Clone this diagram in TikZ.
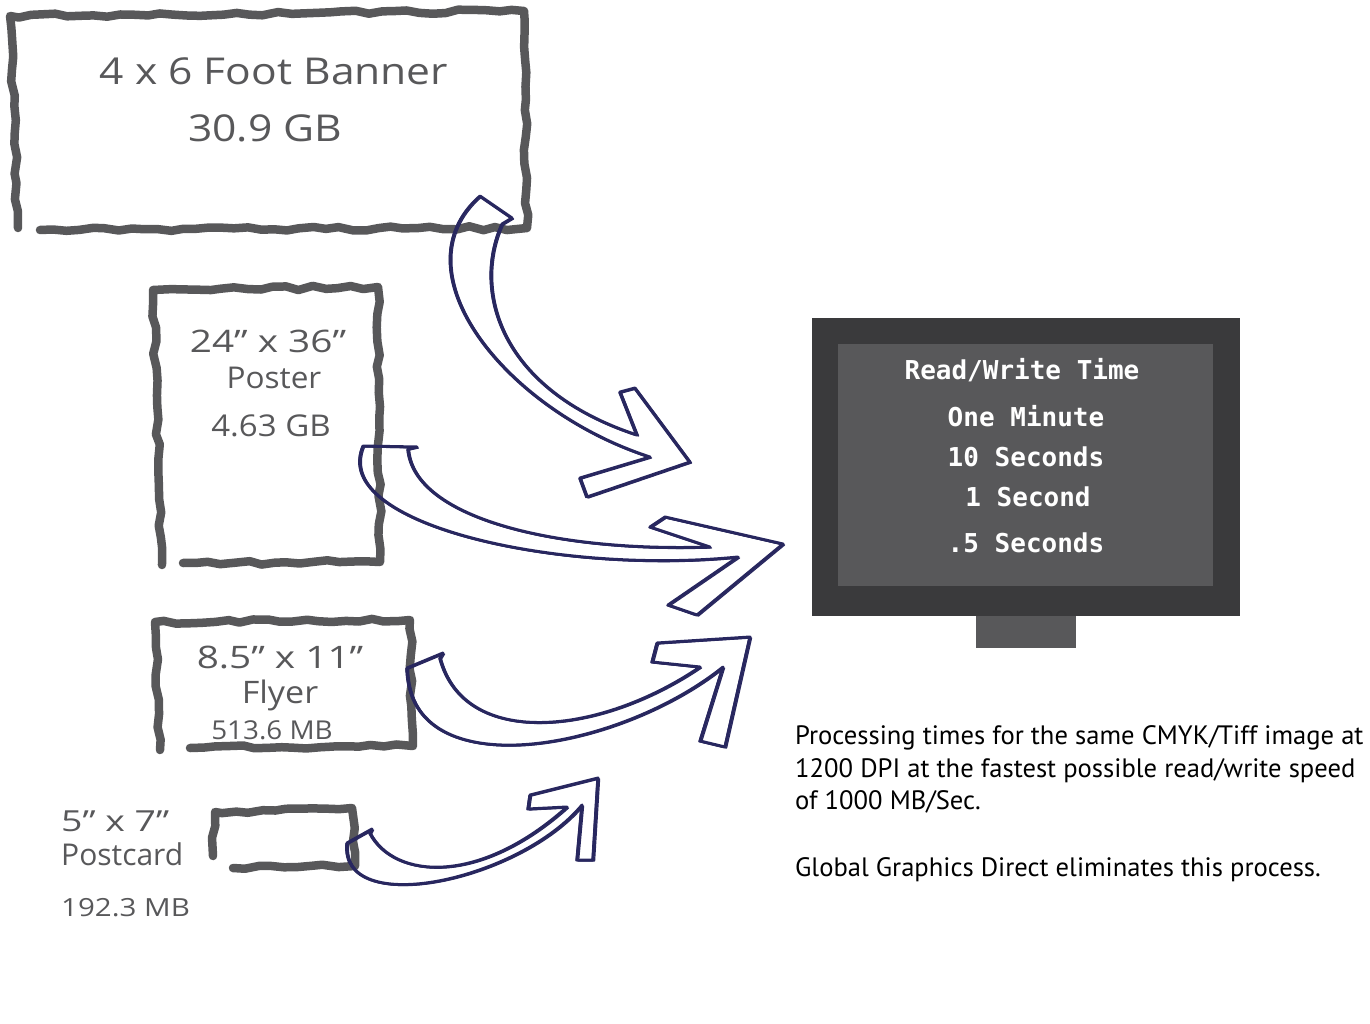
\documentclass[tikz,border=0pt]{standalone}
\usepackage{fontspec}
\setmainfont{Open Sans}
\newfontfamily\capfont{PT Sans}
\newfontfamily\monofont{DejaVu Sans Mono}
\usetikzlibrary{decorations.pathmorphing}
\definecolor{boxgray}{HTML}{58585A}
\definecolor{navyink}{HTML}{28275F}
\definecolor{monframe}{HTML}{3A3A3C}
\definecolor{monscreen}{HTML}{58585A}
\newcommand\hand[2]{\fontsize{#1}{#1}\selectfont\addfontfeature{FakeStretch=#2}}
\begin{document}
\begin{tikzpicture}[x=1pt,y=-1pt,
  roughbox/.style={draw=boxgray,line width=8.5pt,line cap=round,line join=round,
    decorate,decoration={random steps,segment length=13pt,amplitude=2pt}},
  ink/.style={draw=navyink,line join=round,line cap=round},
  boxtxt/.style={text=boxgray,anchor=base,inner sep=0pt},
  montxt/.style={text=white,anchor=base,inner sep=0pt,font=\monofont\bfseries\fontsize{26}{30}\selectfont},
  captxt/.style={text=black,anchor=base west,inner sep=0pt,font=\capfont\fontsize{26.6}{30}\selectfont}]
\useasboundingbox (0,0) rectangle (1370,1024);
\pgfmathsetseed{7}
% ---- rough boxes
\draw[roughbox] (40,230) -- (527,228) -- (524,11) -- (10,16) -- (18,228);
\draw[roughbox] (183,563) -- (380,562) -- (378,287) -- (153,290) -- (162,565);
\draw[roughbox] (190,748) -- (413,746) -- (410,620) -- (155,622) -- (160,750);
\draw[roughbox] (233,868) -- (355,866) -- (352,808) -- (215,812) -- (213,856);
% ---- box texts
\node[boxtxt,font=\hand{37}{1.15}] (b1) at (274,85) {4 x 6 Foot Banner};
\node[boxtxt,font=\hand{37}{1.15}] (b2) at (265,142) {30.9 GB};
\node[boxtxt,font=\hand{31}{1.25}] (p1) at (268,352) {24” x 36”};
\node[boxtxt,font=\hand{30}{1.05}] (p2) at (274,388) {Poster};
\node[boxtxt,font=\hand{30}{1.1}] (p3) at (271,436) {4.63 GB};
\node[boxtxt,font=\hand{31}{1.25}] (f1) at (280,668) {8.5” x 11”};
\node[boxtxt,font=\hand{31}{1.1}] (f2) at (280,703) {Flyer};
\node[boxtxt,font=\hand{26}{1.07}] (f3) at (272,739) {513.6 MB};
\node[boxtxt,anchor=base west,font=\hand{29}{1.29}] (c1) at (61,831) {5” x 7”};
\node[boxtxt,anchor=base west,font=\hand{30}{1.0}] (c2) at (61,865) {Postcard};
\node[boxtxt,anchor=base west,font=\hand{25}{1.18}] (c3) at (61,916) {192.3 MB};
% ---- monitor
\fill[monframe] (812,318) rectangle (1240,616);
\fill[monscreen] (838,344) rectangle (1213,586);
\fill[monscreen] (976,616) rectangle (1076,648);
\node[montxt] (m0) at (1022,379) {Read/Write Time};
\node[montxt] (m1) at (1026,426) {One Minute};
\node[montxt] (m2) at (1026,466) {10 Seconds};
\node[montxt] (m3) at (1028,506) {1 Second};
\node[montxt] (m4) at (1026,552) {.5 Seconds};
% ---- caption
\node[captxt] (t1) at (795,744) {Processing times for the same CMYK/Tiff image at};
\node[captxt] (t2) at (795,777) {1200 DPI at the fastest possible read/write speed};
\node[captxt] (t3) at (795,809) {of 1000 MB/Sec.};
\node[captxt] (t4) at (795,876) {Global Graphics Direct eliminates this process.};
% ---- sketchy arrows
\foreach \dx/\dy/\lw in {0/0/3.0, 1.6/1.0/1.2, -1.2/0.7/1.0} {
\draw[ink,line width=\lw,shift={(\dx,\dy)}]
  (480,196) -- (512,218) -- (502,224) .. controls (472,290) and (500,390) .. (637,435)
  -- (620,392) -- (635,388) -- (690,462) -- (587,497) -- (580,478) -- (650,457)
  .. controls (505,410) and (395,270) .. (480,196) -- cycle;
\draw[ink,line width=\lw,shift={(\dx,\dy)}]
  (363,446) -- (417,447) -- (408,449) .. controls (415,520) and (560,552) .. (710,547)
  -- (650,527) -- (665,517) -- (783,544) -- (697,615) -- (668,605) -- (738,557)
  .. controls (560,575) and (330,525) .. (363,446) -- cycle;
\draw[ink,line width=\lw,shift={(\dx,\dy)}]
  (407,668) -- (443,653) -- (440,658) .. controls (465,750) and (600,735) .. (700,667)
  -- (652,662) -- (657,643) -- (750,637) -- (725,747) -- (700,741) -- (723,667)
  .. controls (620,750) and (410,790) .. (407,668) -- cycle;
\draw[ink,line width=\lw,shift={(\dx,\dy)}]
  (347,843) -- (372,829) -- (370,833) .. controls (395,880) and (480,885) .. (567,807)
  -- (528,809) -- (530,795) -- (598,778) -- (593,860) -- (577,860) -- (582,805)
  .. controls (520,880) and (340,920) .. (347,843) -- cycle;
}
\end{tikzpicture}
\end{document}
